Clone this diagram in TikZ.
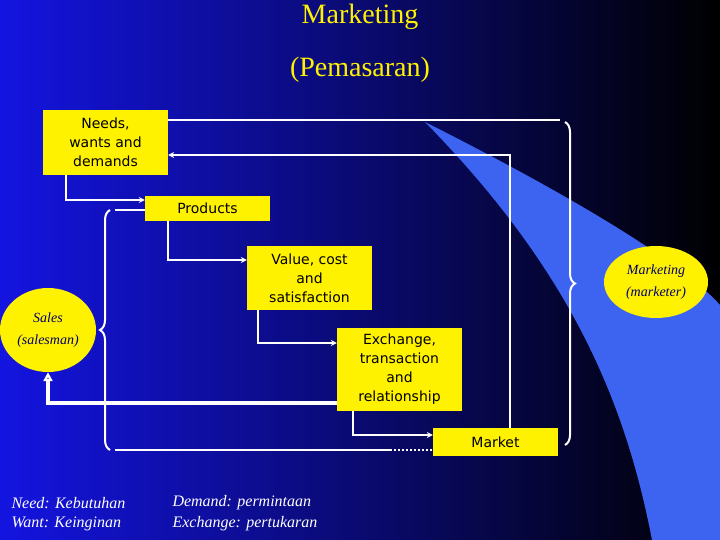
\documentclass[tikz,border=0pt]{standalone}
\usepackage{fontspec}
\setmainfont{Liberation Serif}
\setsansfont{DejaVu Sans}
\usetikzlibrary{positioning}
\usetikzlibrary{shapes.geometric}
\usetikzlibrary{decorations.pathreplacing}
\usetikzlibrary{arrows.meta}

\definecolor{swoosh}{RGB}{60,100,240}
\definecolor{deepblue}{RGB}{20,20,225}

\tikzset{
	ybox/.style={fill=yellow, text=black, font=\sffamily\fontsize{14}{19}\selectfont, align=center, inner sep=0pt},
	yell/.style={ellipse, fill=yellow, text=blue!40!black, font=\itshape\fontsize{14}{22}\selectfont, align=center, inner sep=0pt},
	link/.style={white, line width=2pt, -{Stealth[length=6pt,width=6pt]}},
	curly/.style={white, line width=2pt, decorate, decoration={brace, amplitude=10pt}},
	gloss/.style={white, font=\itshape\fontsize{16}{19}\selectfont, anchor=west}
}

\begin{document}
\begin{tikzpicture}[x=1pt, y=-1pt]
	% background
	\shade[left color=deepblue, middle color=blue!60!black, right color=black] (0,0) rectangle (720,540);
	\useasboundingbox (0,0) rectangle (720,540);
	
	% light swoosh
	\fill[swoosh] (425,122) .. controls (560,190) and (680,260) .. (720,305)
		-- (720,540) -- (652,540) .. controls (625,400) and (570,270) .. (425,122) -- cycle;
	
	% title
	\node (title1) at (360,17) {\fontsize{28}{30}\selectfont\color{yellow}Marketing};
	\node (title2) at (360,70) {\fontsize{28}{30}\selectfont\color{yellow}(Pemasaran)};
	
	% boxes
	\node[ybox, minimum width=125pt, minimum height=65pt] (needs) at (105.5,142.5) {Needs,\\wants and\\demands};
	\node[ybox, minimum width=125pt, minimum height=25pt] (products) at (207.5,208.5) {Products};
	\node[ybox, minimum width=125pt, minimum height=64pt] (value) at (309.5,278) {Value, cost\\and\\satisfaction};
	\node[ybox, minimum width=125pt, minimum height=83pt] (exchange) at (399.5,369.5) {Exchange,\\transaction\\and\\relationship};
	\node[ybox, minimum width=125pt, minimum height=28pt] (market) at (495.5,442) {Market};
	
	% ellipses
	\node[yell, minimum width=96pt, minimum height=84pt] (sales) at (48,330) {Sales\\(salesman)};
	\node[yell, minimum width=104pt, minimum height=72pt] (marketer) at (656,282) {Marketing\\(marketer)};
	
	% chain of arrows
	\draw[link] (needs.south west) ++(23,0) |- (products.west |- 0,200);
	\draw[link] (products.south west) ++(23,0) |- (value.west |- 0,260);
	\draw[link] (value.south west) ++(11,0) |- (exchange.west |- 0,343);
	\draw[link] (exchange.south west) ++(16,0) |- (market.west |- 0,435);
	\draw[link] (market.north west) ++(77,0) |- (needs.east |- 0,155);
	\draw[white, line width=2pt] (needs.east |- 0,120) -- (560,120);
	\draw[white, line width=4pt, -{Triangle[open, length=9pt, width=9pt]}] (exchange.west |- 0,403) -| (sales.south);
	\draw[white, line width=2pt] (products.west |- 0,210) -- (115,210);
	\draw[white, line width=2pt] (115,450) -- (390,450);
	\draw[white, line width=2pt, dotted] (390,450) -- (market.west |- 0,450);
	
	% braces
	\draw[curly] (110,450) -- (110,210);
	\draw[curly] (565,122) -- (565,445);
	
	% glossary
	\node[gloss] (need) at (8,503) {Need: Kebutuhan};
	\node[gloss] (want) at (8,524) {Want: Keinginan};
	\node[gloss] (demand) at (169,503) {Demand: permintaan};
	\node[gloss] (exch) at (169,524) {Exchange: pertukaran};
\end{tikzpicture}
\end{document}
